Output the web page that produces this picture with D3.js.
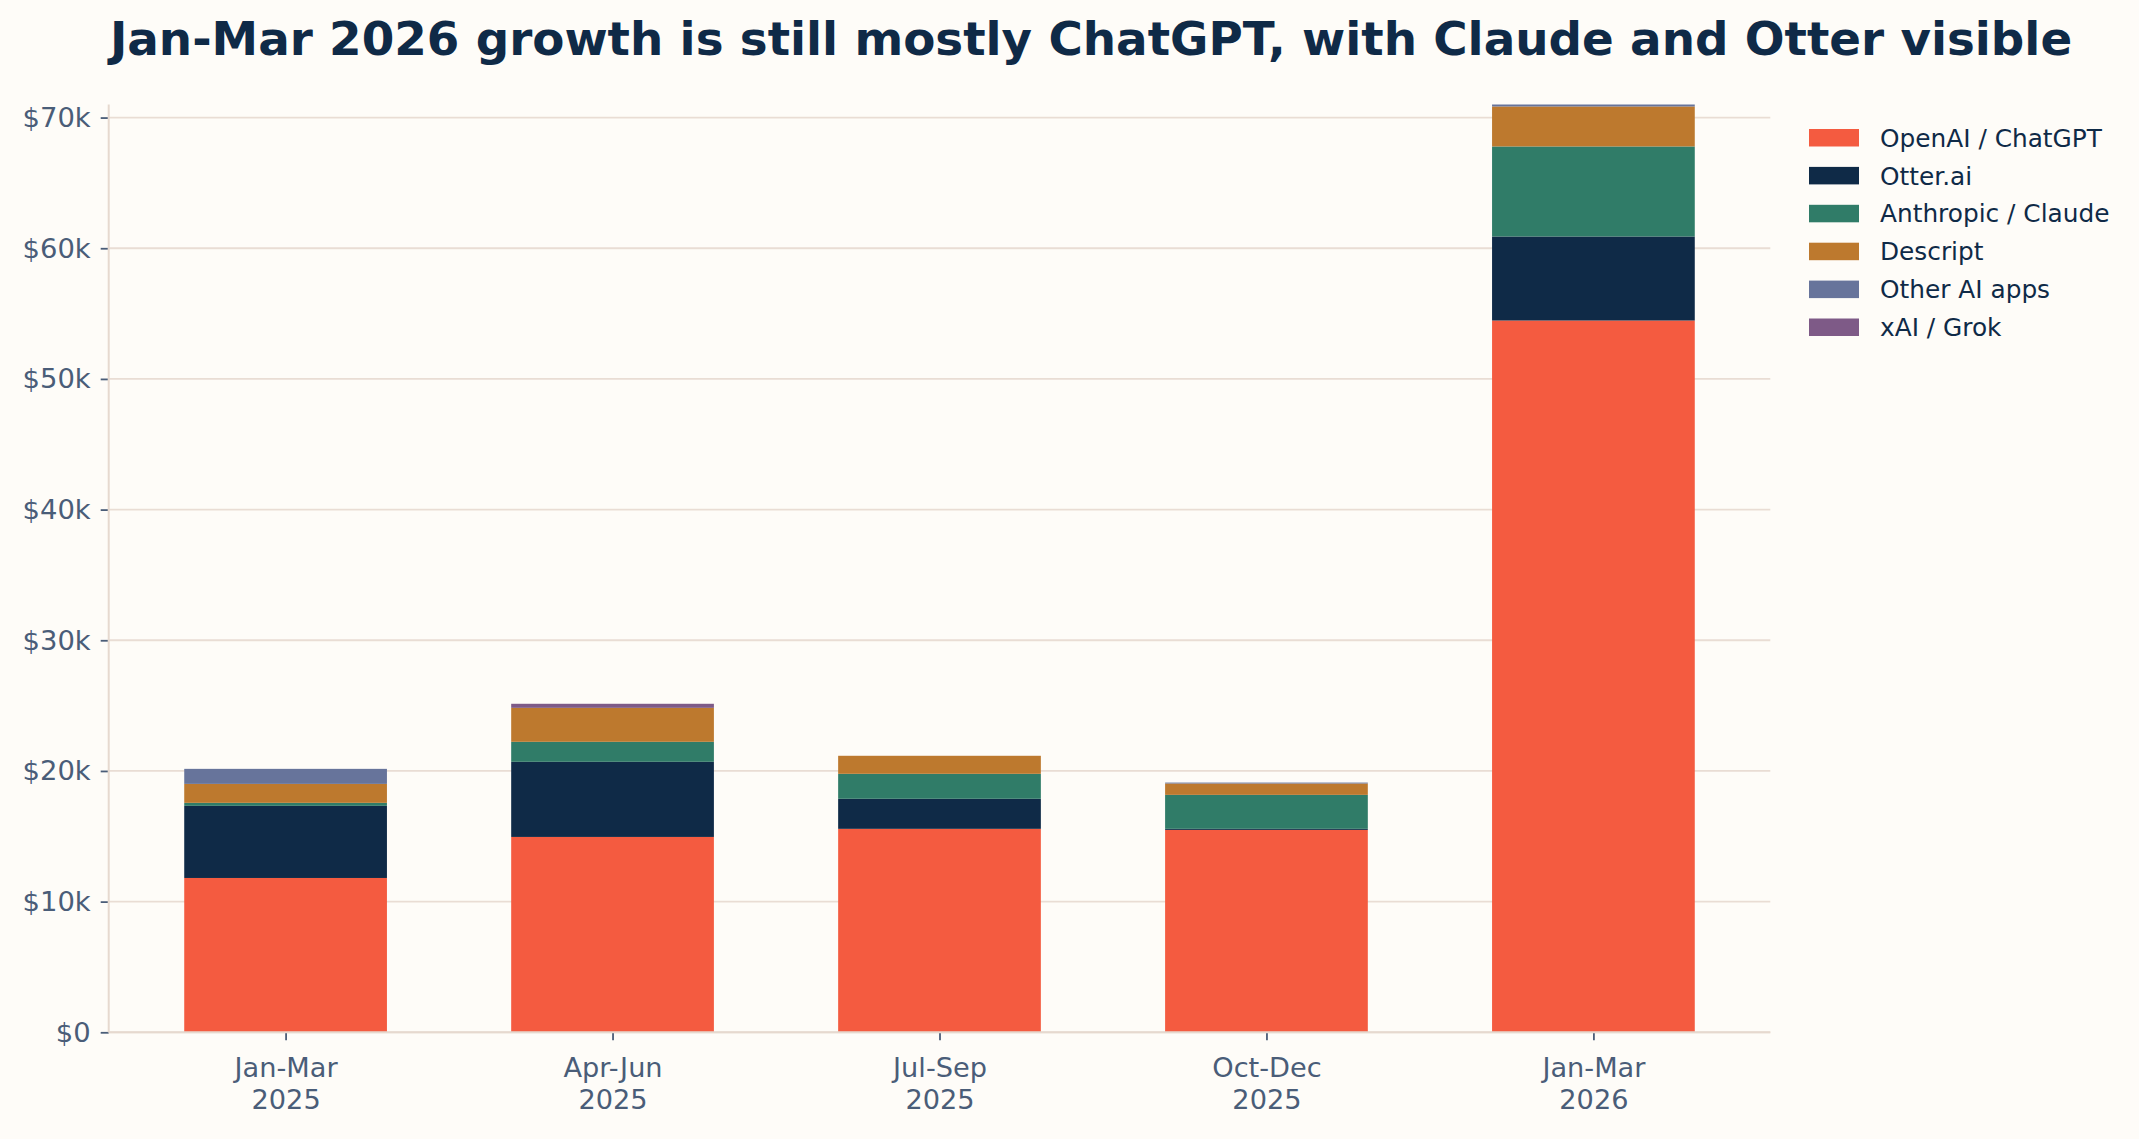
<!DOCTYPE html>
<html>
<head>
<meta charset="utf-8">
<script src="https://cdn.jsdelivr.net/npm/d3@7"></script>
<style>
  html, body { margin: 0; padding: 0; background: #fefcf8; }
  svg { display: block; font-family: "DejaVu Sans", sans-serif; }
</style>
</head>
<body>
<svg id="chart" width="2139" height="1139"></svg>
<script>
// ---- data ----
const quarters = ["Jan-Mar\n2025", "Apr-Jun\n2025", "Jul-Sep\n2025", "Oct-Dec\n2025", "Jan-Mar\n2026"];
const seriesNames = ["OpenAI / ChatGPT", "Otter.ai", "Anthropic / Claude", "Descript", "Other AI apps", "xAI / Grok"];
const chatgpt  = [11810, 14950, 15570, 15490, 54470];
const otter    = [5520, 5750, 2300, 80, 6430];
const claude   = [230, 1530, 1910, 2600, 6890];
const descript = [1450, 2600, 1380, 870, 3060];
const otherAI  = [1150, 0, 0, 70, 150];
const xai      = [0, 310, 0, 0, 0];
const yTicks   = [0, 10000, 20000, 30000, 40000, 50000, 60000, 70000];
const colors   = ["#f45b40", "#0f2a47", "#307c68", "#bd792e", "#67749b", "#7e5a87"];
const titleText = "Jan-Mar 2026 growth is still mostly ChatGPT, with Claude and Otter visible";

(function () {
// ---- build table ----
const seriesValues = [chatgpt, otter, claude, descript, otherAI, xai];
const rows = quarters.map((q, i) => {
  const r = { idx: i, quarter: q };
  seriesNames.forEach((s, j) => r[s] = seriesValues[j][i]);
  return r;
});
const stacked = d3.stack().keys(seriesNames)(rows);

const svg = d3.select("#chart");
const W = 2139, H = 1139;
svg.append("rect").attr("width", W).attr("height", H).attr("fill", "#fefcf8");

const pL = 108.7, pR = 1770.3, pT = 104.5, pB = 1032.3;
const n = quarters.length;
const barW = 0.62;
const margin = (n - 1 + barW) * 0.05;
const x = d3.scaleLinear().domain([-barW / 2 - margin, n - 1 + barW / 2 + margin]).range([pL, pR]);
const totals = rows.map(r => seriesNames.reduce((a, s) => a + r[s], 0));
const y = d3.scaleLinear().domain([0, d3.max(totals)]).range([pB, pT]);

// gridlines
svg.append("g").selectAll("line").data(yTicks).join("line")
  .attr("x1", pL).attr("x2", pR)
  .attr("y1", d => y(d)).attr("y2", d => y(d))
  .attr("stroke", "#e9ddd4").attr("stroke-width", 1.8);

// bars
const color = d3.scaleOrdinal().domain(seriesNames).range(colors);
svg.append("g").selectAll("g").data(stacked).join("g")
  .attr("fill", d => color(d.key))
  .selectAll("rect").data(d => d).join("rect")
  .attr("x", d => x(d.data.idx - barW / 2))
  .attr("width", d => x(d.data.idx + barW / 2) - x(d.data.idx - barW / 2))
  .attr("y", d => y(d[1]))
  .attr("height", d => Math.max(0, y(d[0]) - y(d[1])));

// axes
const tickColor = "#4a5d78";
const yAxis = d3.axisLeft(y).tickValues(yTicks)
  .tickFormat(d => d === 0 ? "$0" : "$" + (d / 1000) + "k")
  .tickSize(8).tickPadding(10);
const gy = svg.append("g").attr("transform", `translate(${pL},0)`).call(yAxis);
gy.select(".domain").remove();
gy.selectAll(".tick line").attr("stroke", tickColor).attr("stroke-width", 1.8);
gy.selectAll(".tick text").attr("fill", tickColor).attr("font-size", 27.4)
  .attr("font-family", "DejaVu Sans");

const xAxis = d3.axisBottom(x).tickValues(d3.range(n)).tickFormat(() => "").tickSize(8);
const gx = svg.append("g").attr("transform", `translate(0,${pB})`).call(xAxis);
gx.select(".domain").remove();
gx.selectAll(".tick line").attr("stroke", tickColor).attr("stroke-width", 1.8);
gx.selectAll(".tick").each(function(d) {
  const lines = quarters[d].split("\n");
  const t = d3.select(this).append("text")
    .attr("fill", tickColor).attr("font-size", 27.2).attr("text-anchor", "middle")
    .attr("font-family", "DejaVu Sans");
  lines.forEach((l, k) => t.append("tspan").attr("x", 0).attr("y", 44.5 + k * 32.3).text(l));
});

// spines
svg.append("line").attr("x1", pL).attr("x2", pL).attr("y1", pT).attr("y2", pB)
  .attr("stroke", "#e6d9cf").attr("stroke-width", 2);
svg.append("line").attr("x1", pL).attr("x2", pR).attr("y1", pB).attr("y2", pB)
  .attr("stroke", "#e6d9cf").attr("stroke-width", 2);

// title
svg.append("text").attr("x", 1091).attr("y", 55).attr("text-anchor", "middle")
  .attr("font-size", 46.8).attr("font-weight", "bold").attr("fill", "#0f2a47")
  .attr("font-family", "DejaVu Sans")
  .text(titleText);

// legend
const lg = svg.append("g");
seriesNames.forEach((s, i) => {
  const cy = 137.7 + i * 37.9;
  lg.append("rect").attr("x", 1809).attr("y", cy - 8.7).attr("width", 50).attr("height", 17.5)
    .attr("fill", color(s));
  lg.append("text").attr("x", 1880).attr("y", cy).attr("dy", "0.36em")
    .attr("font-size", 24.8).attr("fill", "#0f2a47").attr("font-family", "DejaVu Sans").text(s);
});
})();
</script>
</body>
</html>
